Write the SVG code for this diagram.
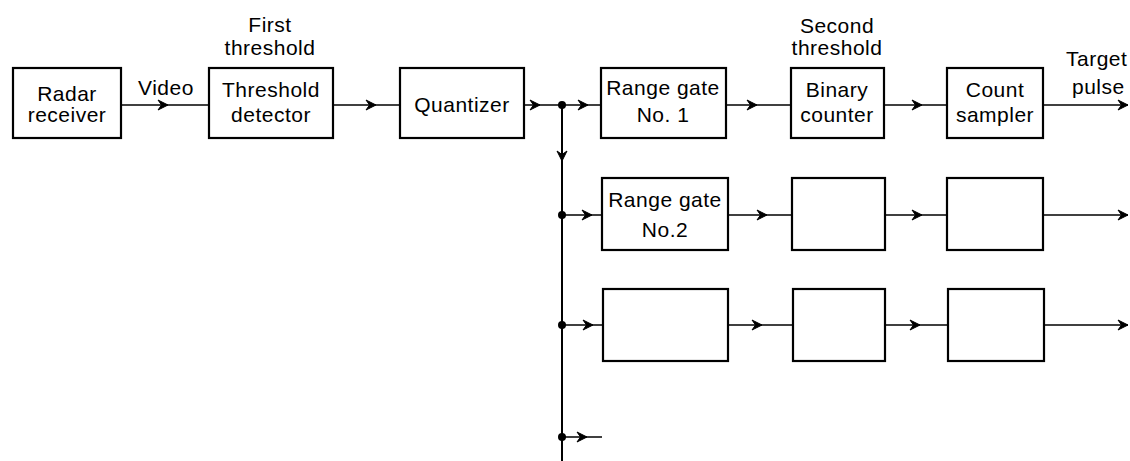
<svg xmlns="http://www.w3.org/2000/svg" width="1130" height="461" viewBox="0 0 1130 461">
<style>
  .box { fill: #fff; stroke: #000; stroke-width: 2.2; }
  .ln { fill: none; stroke: #000; stroke-width: 1.6; marker-mid: url(#chev); }
  .end { marker-end: url(#chev); }
  .bus { fill: none; stroke: #000; stroke-width: 2; marker-mid: url(#chev); }
  text { font-family: "Liberation Sans", Arial, sans-serif; font-size: 21px; fill: #000; text-anchor: middle; letter-spacing: 0.5px; }
  .dot { fill: #000; }
</style>
<defs>
  <marker id="chev" viewBox="-12 -7 14 14" refX="0" refY="0" markerWidth="14" markerHeight="14" markerUnits="userSpaceOnUse" orient="auto">
    <path d="M-10,-5 L0,0 L-10,5 L-6.5,0 Z" fill="#000" stroke="#000" stroke-width="1" stroke-linejoin="miter"/>
  </marker>
</defs>
<rect width="1130" height="461" fill="#fff"/>

<g id="connectors">
  <path class="ln" d="M121,105 L168,105 L209,105"/>
  <path class="ln" d="M333,105 L376,105 L400,105"/>
  <path class="ln" d="M524,105 L540,105 L562,105"/>
  <path class="ln" d="M562,105 L588,105 L601,105"/>
  <path class="ln" d="M726,105 L757,105 L791,105"/>
  <path class="ln" d="M884,105 L922,105 L947,105"/>
  <path class="ln end" d="M1043,105 L1128,105"/>
  <path class="bus" d="M562,105 L562,161 L562,461"/>
  <path class="ln" d="M562,215 L592,215 L602,215"/>
  <path class="ln" d="M728,215 L767,215 L792,215"/>
  <path class="ln" d="M885,215 L922,215 L947,215"/>
  <path class="ln end" d="M1043,215 L1128,215"/>
  <path class="ln" d="M562,325 L593,325 L603,325"/>
  <path class="ln" d="M728,325 L762,325 L793,325"/>
  <path class="ln" d="M885,325 L920,325 L948,325"/>
  <path class="ln end" d="M1044,325 L1128,325"/>
  <path class="ln" d="M562,437 L587,437 L602,437"/>
  <circle class="dot" cx="562" cy="105" r="4"/>
  <circle class="dot" cx="562" cy="215" r="4"/>
  <circle class="dot" cx="562" cy="325" r="4"/>
  <circle class="dot" cx="562" cy="437" r="4"/>
</g>

<g id="labels">
  <text x="270" y="32">First</text>
  <text x="270" y="55">threshold</text>
  <text x="166" y="95">Video</text>
  <text x="837" y="33">Second</text>
  <text x="837" y="55">threshold</text>
  <text x="1066" y="66" style="text-anchor:start">Target</text>
  <text x="1072" y="94" style="text-anchor:start">pulse</text>
</g>

<g id="radar-receiver">
  <rect class="box" x="13" y="68" width="108" height="70"/>
  <text x="67" y="101">Radar</text>
  <text x="67" y="122">receiver</text>
</g>
<g id="threshold-detector">
  <rect class="box" x="209" y="68" width="124" height="70"/>
  <text x="271" y="97">Threshold</text>
  <text x="271" y="122">detector</text>
</g>
<g id="quantizer">
  <rect class="box" x="400" y="68" width="124" height="70"/>
  <text x="462" y="112">Quantizer</text>
</g>
<g id="range-gate-1">
  <rect class="box" x="601" y="68" width="125" height="70"/>
  <text x="663" y="95">Range gate</text>
  <text x="663" y="122">No. 1</text>
</g>
<g id="binary-counter">
  <rect class="box" x="791" y="68" width="93" height="70"/>
  <text x="837" y="97">Binary</text>
  <text x="837" y="122">counter</text>
</g>
<g id="count-sampler">
  <rect class="box" x="947" y="68" width="96" height="70"/>
  <text x="995" y="97">Count</text>
  <text x="995" y="122">sampler</text>
</g>

<g id="range-gate-2">
  <rect class="box" x="602" y="178" width="126" height="72"/>
  <text x="665" y="207">Range gate</text>
  <text x="665" y="237">No.2</text>
</g>
<g id="row2-box2"><rect class="box" x="792" y="178" width="93" height="72"/></g>
<g id="row2-box3"><rect class="box" x="947" y="178" width="96" height="72"/></g>

<g id="row3-box1"><rect class="box" x="603" y="289" width="125" height="72"/></g>
<g id="row3-box2"><rect class="box" x="793" y="289" width="92" height="72"/></g>
<g id="row3-box3"><rect class="box" x="948" y="289" width="96" height="72"/></g>
</svg>
